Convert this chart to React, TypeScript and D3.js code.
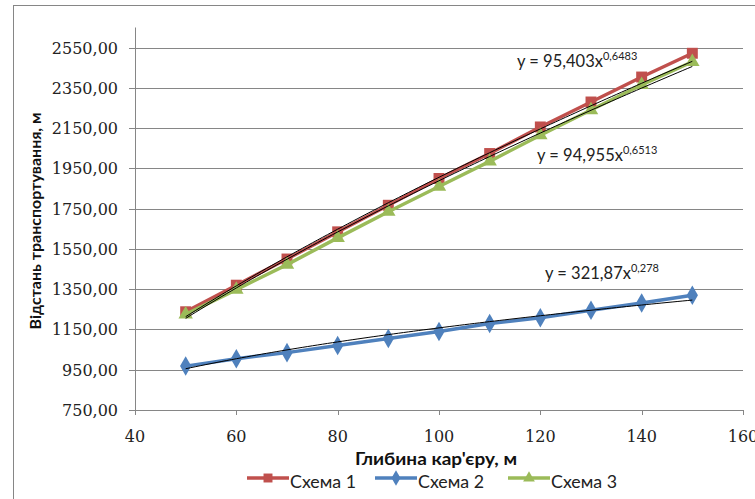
import React, { useEffect, useRef } from "react";
import * as d3 from "d3";

// depth of the pit, m
const depths = [50, 60, 70, 80, 90, 100, 110, 120, 130, 140, 150];

const scheme1 = [1238, 1370, 1500, 1635, 1767, 1900, 2024, 2156, 2280, 2404, 2522];
const scheme2 = [968, 1005, 1035, 1070, 1105, 1140, 1180, 1208, 1245, 1282, 1320];
const scheme3 = [1225, 1348, 1472, 1605, 1735, 1860, 1985, 2115, 2240, 2365, 2480];

const seriesNames = ["Схема 1", "Схема 2", "Схема 3"];
const seriesColors = ["#C0504D", "#4F81BD", "#9BBB59"];
const seriesSymbols = [d3.symbolSquare, d3.symbolDiamond, d3.symbolTriangle];

// power trendlines y = a * x^b
const trendA = [94.955, 321.87, 95.403];
const trendB = [0.6513, 0.278, 0.6483];
const trendLabelsA = ["94,955", "321,87", "95,403"];
const trendLabelsB = ["0,6513", "0,278", "0,6483"];

const yTicks = [750, 950, 1150, 1350, 1550, 1750, 1950, 2150, 2350, 2550];
const xTicks = [40, 60, 80, 100, 120, 140, 160];

export default function App() {
  const svgRef = useRef<SVGSVGElement>(null);

  useEffect(() => {
    const W = 755;
    const H = 499;
    const svg = d3.select(svgRef.current).attr("width", W).attr("height", H);
    svg.selectAll("*").remove();

    const gridColor = "#868686";
    const sans = "Lato, 'Open Sans', sans-serif";
    const serif = "'DejaVu Serif', serif";

    // chart frame
    svg
      .append("rect")
      .attr("x", 13.5)
      .attr("y", 5.5)
      .attr("width", 780)
      .attr("height", 520)
      .attr("fill", "#fff")
      .attr("stroke", gridColor);

    const x = d3.scaleLinear().domain([40, 160]).range([135, 743]);
    const y = d3.scaleLinear().domain([750, 2650]).range([410, 27.5]);

    // gridlines + y ticks
    const yg = svg.append("g");
    yg.selectAll("line")
      .data(yTicks)
      .join("line")
      .attr("x1", 129)
      .attr("x2", x(160))
      .attr("y1", (d) => Math.round(y(d)) + 0.5)
      .attr("y2", (d) => Math.round(y(d)) + 0.5)
      .attr("stroke", gridColor);
    yg.selectAll("text")
      .data(yTicks)
      .join("text")
      .attr("x", 118)
      .attr("y", (d) => y(d) + 6)
      .attr("text-anchor", "end")
      .attr("font-family", serif)
      .attr("font-size", 16)
      .attr("fill", "#222")
      .text((d) => d3.format(".2f")(d).replace(".", ","));

    // y axis line
    svg
      .append("line")
      .attr("x1", x(40) + 0.5)
      .attr("x2", x(40) + 0.5)
      .attr("y1", y(2650))
      .attr("y2", y(750))
      .attr("stroke", gridColor);

    // x ticks
    const xg = svg.append("g");
    xg.selectAll("line")
      .data(xTicks)
      .join("line")
      .attr("x1", (d) => Math.round(x(d)) + 0.5)
      .attr("x2", (d) => Math.round(x(d)) + 0.5)
      .attr("y1", y(750))
      .attr("y2", y(750) + 5)
      .attr("stroke", gridColor);
    xg.selectAll("text")
      .data(xTicks)
      .join("text")
      .attr("x", (d) => x(d))
      .attr("y", 442)
      .attr("text-anchor", "middle")
      .attr("font-family", serif)
      .attr("font-size", 16)
      .attr("fill", "#222")
      .text((d) => d);

    // series
    const allSeries = [scheme1, scheme2, scheme3];
    const line = d3
      .line<number>()
      .x((d, i) => x(depths[i]))
      .y((d) => y(d));

    allSeries.forEach((vals, s) => {
      const g = svg.append("g");
      g.append("path")
        .attr("d", line(vals))
        .attr("fill", "none")
        .attr("stroke", seriesColors[s])
        .attr("stroke-width", 3.5)
        .attr("stroke-linejoin", "round");
      g.selectAll("path.m")
        .data(vals)
        .join("path")
        .attr("class", "m")
        .attr("d", d3.symbol(seriesSymbols[s], s === 1 ? 110 : s === 2 ? 90 : 120)())
        .attr("transform", (d, i) => `translate(${x(depths[i])},${y(d)})`)
        .attr("fill", seriesColors[s]);
    });

    // trendlines
    const trendX = d3.range(50, 150.01, 1);
    allSeries.forEach((vals, s) => {
      const tl = d3
        .line<number>()
        .x((d) => x(d))
        .y((d) => y(trendA[s] * Math.pow(d, trendB[s])));
      svg
        .append("path")
        .attr("d", tl(trendX))
        .attr("fill", "none")
        .attr("stroke", "#000")
        .attr("stroke-width", 1);
    });

    // trendline equations
    const eqPos = [
      [537, 161],
      [545, 279],
      [517, 67],
    ];
    eqPos.forEach(([px, py], s) => {
      const t = svg
        .append("text")
        .attr("x", px)
        .attr("y", py)
        .attr("font-family", sans)
        .attr("font-size", 16.5)
        .attr("fill", "#222");
      t.append("tspan").text(`y = ${trendLabelsA[s]}x`);
      t.append("tspan").attr("dy", -7).attr("font-size", 11).text(trendLabelsB[s]);
    });

    // axis titles
    svg
      .append("text")
      .attr("x", 355)
      .attr("y", 465)
      .attr("font-family", sans)
      .attr("font-weight", "bold")
      .attr("font-size", 16.5)
      .attr("textLength", 162)
      .attr("lengthAdjust", "spacingAndGlyphs")
      .attr("fill", "#111")
      .text("Глибина кар'єру, м");

    svg
      .append("text")
      .attr("transform", "translate(41,221) rotate(-90)")
      .attr("text-anchor", "middle")
      .attr("font-family", sans)
      .attr("font-weight", "bold")
      .attr("font-size", 16)
      .attr("fill", "#111")
      .text("Відстань транспортування, м");

    // legend
    const legendX = [247, 375, 508];
    seriesNames.forEach((name, s) => {
      const g = svg.append("g").attr("transform", `translate(${legendX[s]},478)`);
      g.append("line")
        .attr("x1", 0)
        .attr("x2", 42)
        .attr("stroke", seriesColors[s])
        .attr("stroke-width", 3.5);
      g.append("path")
        .attr("d", d3.symbol(seriesSymbols[s], s === 1 ? 70 : s === 2 ? 60 : 80)())
        .attr("transform", "translate(21,0)")
        .attr("fill", seriesColors[s]);
      g.append("text")
        .attr("x", 43)
        .attr("y", 10)
        .attr("font-family", sans)
        .attr("font-size", 17.5)
        .attr("textLength", 66)
        .attr("lengthAdjust", "spacingAndGlyphs")
        .attr("fill", "#222")
        .text(name);
    });
  }, []);

  return (
    <div>
      <svg ref={svgRef} style={{ position: "absolute", left: 0, top: 0 }}></svg>
    </div>
  );
}
